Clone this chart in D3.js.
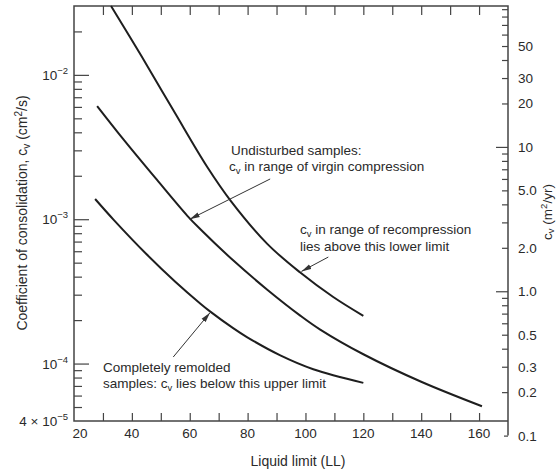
<!DOCTYPE html>
<html><head><meta charset="utf-8">
<script src="https://cdn.jsdelivr.net/npm/d3@7"></script>
<style>
html,body{margin:0;padding:0;background:#fff;}
svg text{font-family:"Liberation Sans",Arial,Helvetica,sans-serif;fill:#2a2a2a;}
</style></head>
<body><svg id="c" width="559" height="470"></svg>
<script>
// ---- data (Liquid limit vs coefficient of consolidation cv, cm^2/s) ----
const virginLL = [32.8, 43.2, 54.6, 66, 74.3, 86.8, 98.2, 109.6, 120];
const virginCv = [3.0e-2, 1.36e-2, 5.57e-3, 2.31e-3, 1.33e-3, 6.75e-4, 4.27e-4, 2.89e-4, 2.14e-4];

const recompLL = [28, 37.3, 48.7, 59.1, 63.6, 75, 86.8, 98.2, 105.1, 120, 140, 161];
const recompCv = [6.08e-3, 3.53e-3, 1.87e-3, 1.06e-3, 8.55e-4, 5.19e-4, 3.25e-4, 2.15e-4, 1.72e-4, 1.16e-4, 7.48e-5, 5.06e-5];

const remoldLL = [27.3, 33.8, 45, 55, 63.6, 67, 75, 79.9, 91.3, 102.7, 120];
const remoldCv = [1.38e-3, 9.86e-4, 5.74e-4, 3.69e-4, 2.61e-4, 2.30e-4, 1.76e-4, 1.52e-4, 1.14e-4, 9.14e-5, 7.35e-5];

const xTickLabels = [20, 40, 60, 80, 100, 120, 140, 160];
const xMinorTicks = [30, 40, 50, 60, 70, 80, 90, 100, 110, 120, 130, 140, 150, 160];
const leftMajor = [1e-2, 1e-3, 1e-4];
const leftLabels = [["10", "\u22122"], ["10", "\u22123"], ["10", "\u22124"], ["4 \u00d7 10", "\u22125"]];
const leftLabelValues = [1e-2, 1e-3, 1e-4, 4e-5];
const rightValues = [50, 30, 20, 10, 5, 2, 1, 0.5, 0.3, 0.2, 0.1];
const rightLabels = ["50", "30", "20", "10", "5.0", "2.0", "1.0", "0.5", "0.3", "0.2", "0.1"];
const rightMajor = [10, 1];
const CONV = 3155.76; // 1 cm^2/s = 3155.76 m^2/yr

// annotation arrows in data coords [LL, cv] tail -> head
const arrowTails = [[87.8, 1.9e-3], [107.9, 5.47e-4], [54.3, 1.11e-4]];
const arrowHeads = [[60, 1.0e-3], [98.6, 4.35e-4], [67, 2.25e-4]];

// ---- layout ----
const svg = d3.select("#c");
const L = 74, R = 508, T = 6, B = 421;
const x = d3.scaleLinear().domain([20, 170]).range([L, R]);
const y = d3.scaleLog().domain([4e-5, 3e-2]).range([B, T]);
const yR = d3.scaleLog().domain([4e-5 * CONV, 3e-2 * CONV]).range([B, T]);

const frameCol = "#444";
const leftMinor = [];
[1e-5, 1e-4, 1e-3, 1e-2].forEach(d => { for (let k = 2; k <= 9; k++) { const v = d * k; if (v > 4e-5 && v < 3e-2 && !leftMajor.includes(v)) leftMinor.push(v); } });
const rightMinor = [];
[0.1, 1, 10].forEach(d => { for (let k = 1; k <= 9; k++) { const v = +(d * k).toPrecision(3); if (v > 0.1 && yR(v) > T + 2 && !rightMajor.includes(v)) rightMinor.push(v); } });

function styleAxis(g) {
  g.select(".domain").remove();
  g.selectAll(".tick line").attr("stroke", frameCol).attr("stroke-width", 1.2);
}

// left axis ticks (inward)
svg.append("g").attr("transform", `translate(${L},0)`)
  .call(d3.axisLeft(y).tickValues(leftMajor).tickSize(-15).tickFormat(""))
  .call(styleAxis);
svg.append("g").attr("transform", `translate(${L},0)`)
  .call(d3.axisLeft(y).tickValues(leftMinor).tickSize(-8).tickFormat(""))
  .call(styleAxis);
const ll = svg.append("g").selectAll("text").data(leftLabelValues).join("text")
  .attr("x", L - 6).attr("y", d => y(d) + 5).attr("text-anchor", "end")
  .attr("font-size", 13.5);
ll.each(function (d, i) {
  const t = d3.select(this);
  t.append("tspan").text(leftLabels[i][0]);
  t.append("tspan").attr("font-size", 9.5).attr("dy", -6).text(leftLabels[i][1]);
});

// bottom & top ticks (inward)
svg.append("g").attr("transform", `translate(0,${B})`)
  .call(d3.axisBottom(x).tickValues(xMinorTicks).tickSize(-8).tickFormat(""))
  .call(styleAxis);
svg.append("g").attr("transform", `translate(0,${T})`)
  .call(d3.axisTop(x).tickValues(xMinorTicks).tickSize(-9).tickFormat(""))
  .call(styleAxis);
svg.append("g").selectAll("text").data(xTickLabels).join("text")
  .attr("x", d => x(d) + (d === 20 ? 6 : 0)).attr("y", B + 17).attr("text-anchor", "middle")
  .attr("font-size", 13.5).text(d => d);

// right axis (m^2/yr), inward ticks
svg.append("g").attr("transform", `translate(${R},0)`)
  .call(d3.axisRight(yR).tickValues(rightMinor).tickSize(-6).tickFormat(""))
  .call(styleAxis);
svg.append("g").attr("transform", `translate(${R},0)`)
  .call(d3.axisRight(yR).tickValues(rightMajor).tickSize(-12).tickFormat(""))
  .call(styleAxis);
svg.append("g").attr("transform", `translate(${R},0)`)
  .call(d3.axisRight(yR).tickValues([0.1]).tickSize(-4).tickFormat(""))
  .call(styleAxis);
svg.append("g").selectAll("text").data(rightValues).join("text")
  .attr("x", R + 10).attr("y", (d) => yR(d) + 5)
  .attr("font-size", 13.5).text((d, i) => rightLabels[i]);

// frame
svg.append("path").attr("fill", "none").attr("stroke", frameCol).attr("stroke-width", 1.5)
  .attr("d", `M${R},${yR(0.1)}L${R},${T}L${L},${T}L${L},${B}L${R},${B}`);

// curves
const line = d3.line().x(d => x(d[0])).y(d => y(d[1])).curve(d3.curveCatmullRom.alpha(0.5));
[[virginLL, virginCv], [recompLL, recompCv], [remoldLL, remoldCv]].forEach(([a, b]) => {
  svg.append("path").datum(a.map((v, i) => [v, b[i]]))
    .attr("fill", "none").attr("stroke", "#1e1e1e").attr("stroke-width", 2)
    .attr("d", line);
});

// arrows
svg.append("defs").append("marker").attr("id", "ah").attr("viewBox", "0 -3 10 6")
  .attr("refX", 10).attr("refY", 0).attr("markerWidth", 10).attr("markerHeight", 6)
  .attr("markerUnits", "userSpaceOnUse").attr("orient", "auto")
  .append("path").attr("d", "M0,-2.6L10,0L0,2.6Z").attr("fill", "#333");
svg.append("g").selectAll("line").data(arrowTails).join("line")
  .attr("x1", d => x(d[0])).attr("y1", d => y(d[1]))
  .attr("x2", (d, i) => x(arrowHeads[i][0])).attr("y2", (d, i) => y(arrowHeads[i][1]))
  .attr("stroke", "#333").attr("stroke-width", 1).attr("marker-end", "url(#ah)");

// annotation texts
function cvText(g, xx, yy, before, after, size) {
  const t = g.append("text").attr("x", xx).attr("y", yy).attr("font-size", size);
  if (before) t.append("tspan").text(before);
  t.append("tspan").text("c");
  t.append("tspan").attr("font-size", size * 0.7).attr("dy", 3).text("v");
  t.append("tspan").attr("dy", -3).text(after);
  return t;
}
const ann = svg.append("g");
ann.append("text").attr("x", 231).attr("y", 155).attr("font-size", 13.5).text("Undisturbed samples:");
cvText(ann, 229, 171, "", " in range of virgin compression", 13.5);
cvText(ann, 300, 234, "", " in range of recompression", 13.5);
ann.append("text").attr("x", 300).attr("y", 251).attr("font-size", 13.5).text("lies above this lower limit");
ann.append("text").attr("x", 103).attr("y", 372).attr("font-size", 13.5).text("Completely remolded");
cvText(ann, 103, 388, "samples: ", " lies below this upper limit", 13.5);

// axis titles
svg.append("text").attr("x", (L + R) / 2 + 7).attr("y", 466).attr("text-anchor", "middle")
  .attr("font-size", 14).text("Liquid limit (LL)");
const yt = svg.append("text").attr("transform", `translate(27,${213}) rotate(-90)`)
  .attr("text-anchor", "middle").attr("font-size", 14);
yt.append("tspan").text("Coefficient of consolidation, c");
yt.append("tspan").attr("font-size", 10).attr("dy", 3).text("v");
yt.append("tspan").attr("dy", -3).text(" (cm");
yt.append("tspan").attr("font-size", 10).attr("dy", -5).text("2");
yt.append("tspan").attr("dy", 5).text("/s)");
const rt = svg.append("text").attr("transform", `translate(552,${212}) rotate(-90)`)
  .attr("text-anchor", "middle").attr("font-size", 13.5);
rt.append("tspan").text("c");
rt.append("tspan").attr("font-size", 9.5).attr("dy", 2).text("v");
rt.append("tspan").attr("dy", -2).text(" (m");
rt.append("tspan").attr("font-size", 9.5).attr("dy", -5).text("2");
rt.append("tspan").attr("dy", 5).text("/yr)");
</script></body></html>
